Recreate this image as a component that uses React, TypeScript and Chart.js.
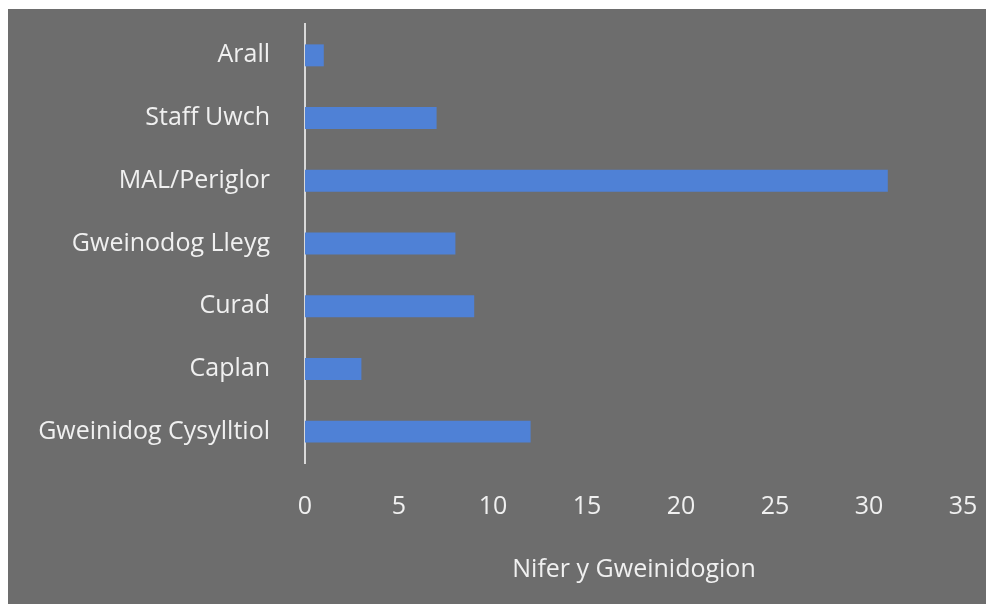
import React, { useEffect, useRef } from "react";
import { Chart, registerables } from "chart.js";

Chart.register(...registerables);

const categories = [
  "Arall",
  "Staff Uwch",
  "MAL/Periglor",
  "Gweinodog Lleyg",
  "Curad",
  "Caplan",
  "Gweinidog Cysylltiol",
];
const values = [1, 7, 31, 8, 9, 3, 12];
const xMin = 0;
const xMax = 35;
const xStep = 5;
const xTitle = "Nifer y Gweinidogion";

const BG = "#6d6d6d";
const BAR = "#4f81d6";
const TEXT = "#f0f0f0";
const FONT = "'Open Sans', sans-serif";

export default function App() {
  const ref = useRef<HTMLCanvasElement | null>(null);

  useEffect(() => {
    if (!ref.current) return;
    const chart = new Chart(ref.current, {
      type: "bar",
      data: {
        labels: categories,
        datasets: [
          {
            data: values,
            backgroundColor: BAR,
            borderWidth: 0,
            categoryPercentage: 1,
            barPercentage: 0.35,
          },
        ],
      },
      options: {
        indexAxis: "y",
        animation: false,
        responsive: true,
        maintainAspectRatio: false,
        layout: { padding: { top: 15, right: 23, left: 0, bottom: 0 } },
        plugins: {
          legend: { display: false },
          tooltip: { enabled: false },
        },
        scales: {
          y: {
            grid: { display: false, drawTicks: false },
            border: { display: true, color: "#d9d9d9", width: 2 },
            ticks: {
              color: TEXT,
              font: { family: FONT, size: 25 },
              padding: 35,
            },
            afterFit: (scale: any) => {
              scale.width = 297;
              scale.paddingTop = 0;
              scale.paddingBottom = 0;
            },
          },
          x: {
            min: xMin,
            max: xMax,
            grid: { display: false, drawTicks: false },
            border: { display: false },
            ticks: {
              stepSize: xStep,
              color: TEXT,
              font: { family: FONT, size: 25 },
              padding: 29,
              maxRotation: 0,
            },
            title: {
              display: true,
              text: xTitle,
              color: TEXT,
              font: { family: FONT, size: 25 },
              padding: { top: 0, bottom: 19 },
            },
            afterFit: (scale: any) => {
              scale.height = 141;
              scale.paddingLeft = 0;
              scale.paddingRight = 0;
            },
          },
        },
      },
    });
    return () => chart.destroy();
  }, []);

  return (
    <div
      style={{
        position: "fixed",
        left: 8,
        top: 9,
        width: 978,
        height: 595,
        background: BG,
      }}
    >
      <canvas ref={ref} />
    </div>
  );
}
